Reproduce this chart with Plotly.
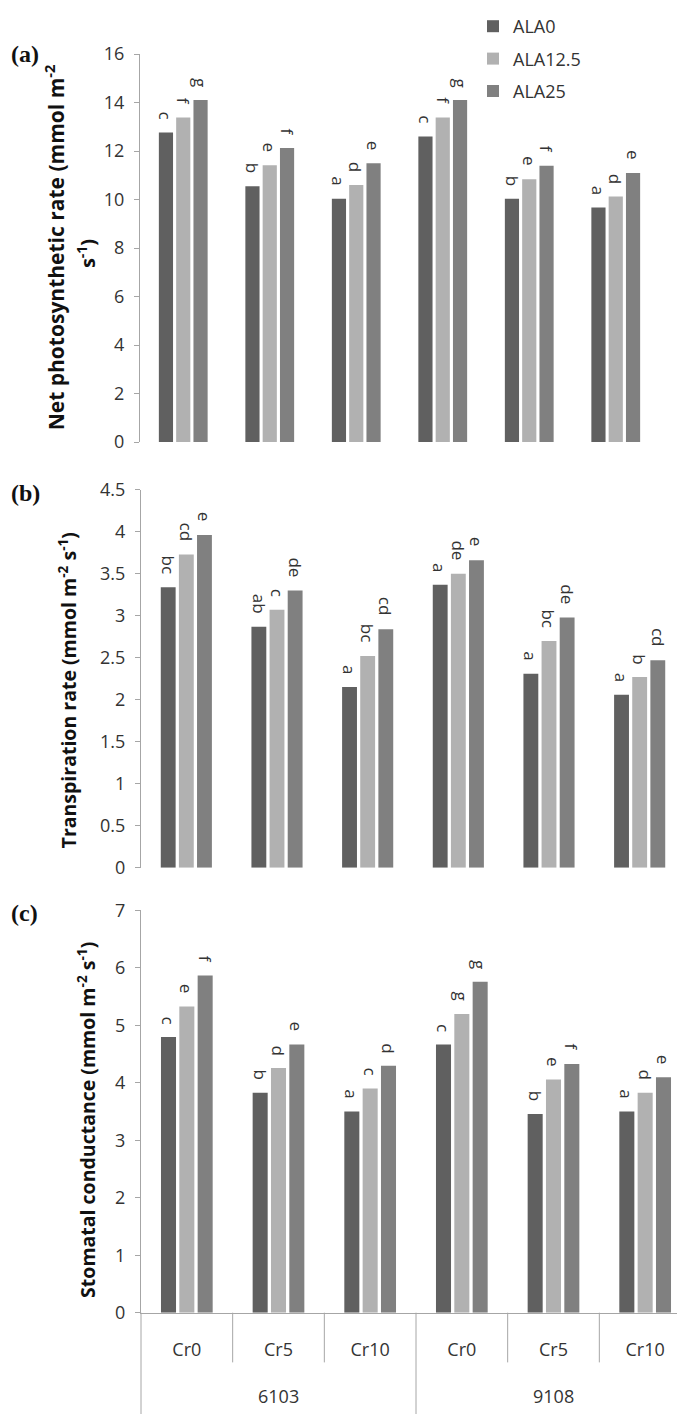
import plotly.graph_objects as go

# ---------------- data ----------------
cultivars = ["6103", "6103", "6103", "9108", "9108", "9108"]
cr_levels = ["Cr0", "Cr5", "Cr10", "Cr0", "Cr5", "Cr10"]
series_names = ["ALA0", "ALA12.5", "ALA25"]

# (a) Net photosynthetic rate
pn_ala0 = [12.77, 10.55, 10.04, 12.60, 10.04, 9.67]
pn_ala12 = [13.39, 11.42, 10.60, 13.39, 10.84, 10.13]
pn_ala25 = [14.11, 12.13, 11.50, 14.11, 11.40, 11.10]
pn_lab0 = ["c", "b", "a", "c", "b", "a"]
pn_lab12 = ["f", "e", "d", "f", "e", "d"]
pn_lab25 = ["g", "f", "e", "g", "f", "e"]

# (b) Transpiration rate
tr_ala0 = [3.34, 2.87, 2.15, 3.37, 2.31, 2.06]
tr_ala12 = [3.73, 3.07, 2.52, 3.50, 2.70, 2.27]
tr_ala25 = [3.96, 3.30, 2.84, 3.66, 2.98, 2.47]
tr_lab0 = ["bc", "ab", "a", "a", "a", "a"]
tr_lab12 = ["cd", "c", "bc", "de", "bc", "b"]
tr_lab25 = ["e", "de", "cd", "e", "de", "cd"]

# (c) Stomatal conductance
gs_ala0 = [4.80, 3.83, 3.50, 4.67, 3.46, 3.50]
gs_ala12 = [5.33, 4.26, 3.90, 5.20, 4.06, 3.83]
gs_ala25 = [5.87, 4.67, 4.30, 5.76, 4.33, 4.10]
gs_lab0 = ["c", "b", "a", "c", "b", "a"]
gs_lab12 = ["e", "d", "c", "g", "e", "d"]
gs_lab25 = ["f", "e", "d", "g", "f", "e"]

colors = ["#606060", "#b1b1b1", "#808080"]

W, H = 685, 1417
def fx(px):
    return px / W
def fy(py):
    return 1 - py / H

FONT = "Open Sans"
TXT = "#333333"
AXC = "#a6a6a6"
BARGAP = 0.4
GROUPGAP = 0.18

panels = [
    dict(vals=[pn_ala0, pn_ala12, pn_ala25], labs=[pn_lab0, pn_lab12, pn_lab25],
         x0=132, x1=651, ytop=20.7, ybot=419, rng=[0, 16], dtick=2),
    dict(vals=[tr_ala0, tr_ala12, tr_ala25], labs=[tr_lab0, tr_lab12, tr_lab25],
         x0=133, x1=677, ytop=468, ybot=856, rng=[0, 4.5], dtick=0.5),
    dict(vals=[gs_ala0, gs_ala12, gs_ala25], labs=[gs_lab0, gs_lab12, gs_lab25],
         x0=133, x1=683, ytop=900, ybot=1313, rng=[0, 7], dtick=1),
]

xpos = list(range(len(cr_levels)))
slot = (1 - BARGAP) / 3

fig = go.Figure()
layout = {}
annotations = []
for p_i, p in enumerate(panels):
    n = p_i + 1
    xa = "x" if n == 1 else f"x{n}"
    ya = "y" if n == 1 else f"y{n}"
    for s_i in range(3):
        fig.add_trace(go.Bar(
            x=xpos, y=p["vals"][s_i],
            name=series_names[s_i], legendgroup=series_names[s_i],
            showlegend=(n == 1),
            marker=dict(color=colors[s_i], line=dict(width=0)),
            xaxis=xa, yaxis=ya,
        ))
        # significance letters above bars
        for i, (v, lab) in enumerate(zip(p["vals"][s_i], p["labs"][s_i])):
            annotations.append(dict(
                text=lab, x=xpos[i] + (s_i - 1) * slot, y=v, xref=xa, yref=ya,
                xanchor="center", yanchor="bottom", yshift=11, textangle=90,
                showarrow=False, font=dict(family=FONT, size=17, color=TXT)))
    xkey = "xaxis" if n == 1 else f"xaxis{n}"
    ykey = "yaxis" if n == 1 else f"yaxis{n}"
    layout[xkey] = dict(
        domain=[fx(p["x0"]), fx(p["x1"])], anchor=ya, range=[-0.5, len(xpos) - 0.5],
        tickvals=xpos if n == 3 else [], ticktext=cr_levels if n == 3 else [],
        showticklabels=(n == 3), showline=(n == 3), linecolor=AXC, linewidth=1,
        ticks="", showgrid=False, zeroline=False, ticklabelstandoff=21,
        tickfont=dict(family=FONT, size=18, color=TXT),
    )
    layout[ykey] = dict(
        domain=[fy(p["ybot"]), fy(p["ytop"])], anchor=xa, range=p["rng"],
        dtick=p["dtick"], tick0=0, showline=True, linecolor=AXC, linewidth=1,
        ticks="outside", ticklen=5, tickcolor=AXC, showgrid=False, zeroline=False,
        tickfont=dict(family=FONT, size=18, color=TXT), ticklabelstandoff=6,
    )

# cultivar labels (second category level) under panel c
for cv in ["6103", "9108"]:
    idx = [i for i, c in enumerate(cultivars) if c == cv]
    annotations.append(dict(text=cv, x=sum(idx) / len(idx), y=fy(1399), xref="x3", yref="paper",
                            xanchor="center", yanchor="middle", showarrow=False,
                            font=dict(family=FONT, size=18, color=TXT)))

# panel letters
for lab, yc in [("(a)", 21), ("(b)", 471), ("(c)", 903)]:
    annotations.append(dict(text=f"<b>{lab}</b>", x=fx(1), y=fy(yc), xref="paper", yref="paper",
                            xanchor="left", yanchor="middle", showarrow=False,
                            font=dict(family="Liberation Serif", size=24, color="#111111")))
# y-axis titles
for txt, xc, yc, sz in [
    ("<b>Net photosynthetic rate (mmol m<sup>-2</sup></b>", 46, 219, 21),
    ("<b>s<sup>-1</sup>)</b>", 78, 226, 20),
    ("<b>Transpiration rate (mmol m<sup>-2</sup> s<sup>-1</sup>)</b>", 59, 674, 19.5),
    ("<b>Stomatal conductance (mmol m<sup>-2</sup> s<sup>-1</sup>)</b>", 79, 1115, 19.5),
]:
    annotations.append(dict(text=txt, x=fx(xc), y=fy(yc), xref="paper", yref="paper",
                            xanchor="center", yanchor="middle", textangle=-90,
                            showarrow=False, font=dict(family=FONT, size=sz, color="#111111")))

# category separators for panel c
shapes = []
c = panels[2]
band = (c["x1"] - c["x0"]) / 6
for k in range(6):
    xp = c["x0"] + k * band
    yend = 1417 if k % 3 == 0 else 1364
    shapes.append(dict(type="line", xref="paper", yref="paper",
                       x0=fx(xp), x1=fx(xp), y0=fy(c["ybot"]), y1=fy(yend),
                       line=dict(color=AXC, width=1)))

fig.update_layout(
    width=W, height=H, margin=dict(l=0, r=0, t=0, b=0),
    paper_bgcolor="white", plot_bgcolor="white",
    barmode="group", bargap=BARGAP, bargroupgap=GROUPGAP,
    legend=dict(x=fx(465), y=fy(-27), xanchor="left", yanchor="top",
                font=dict(family=FONT, size=18, color=TXT),
                tracegroupgap=6, bgcolor="rgba(0,0,0,0)"),
    annotations=annotations, shapes=shapes,
    **layout,
)

fig.write_html("out.html")
